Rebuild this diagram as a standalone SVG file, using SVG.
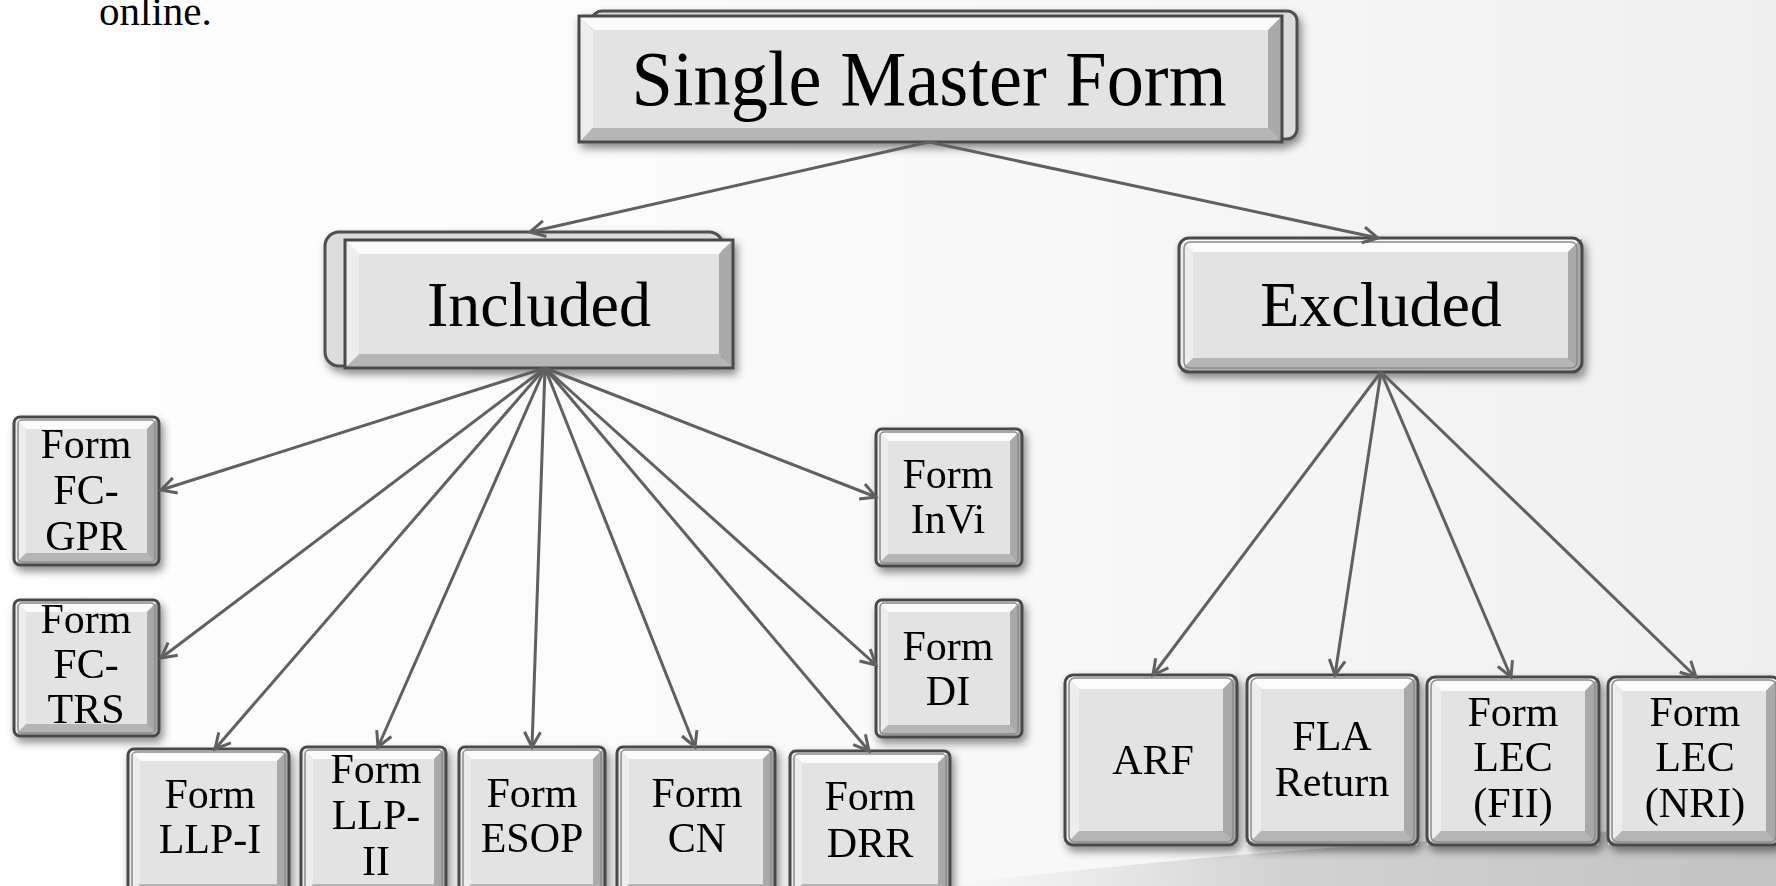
<svg xmlns="http://www.w3.org/2000/svg" width="1776" height="886" viewBox="0 0 1776 886">
<style>
.t{font-family:"Liberation Serif","Times New Roman",serif;fill:#000;text-anchor:middle}
.s42{font-size:42px}
.tb{fill:#fbfbfb}
.lb{fill:#ededed}
.rb{fill:#a9a9a9}
.bb{fill:#b5b5b5}
.face{fill:#e3e3e3}
.edge{fill:none;stroke:#4a4a4a;stroke-width:3}
.edge2{fill:none;stroke:#8a8a8a;stroke-width:1.5}
.back{fill:#dcdcdc;stroke:#505050;stroke-width:3}
.conn line{stroke:#606060;stroke-width:3;marker-end:url(#arr)}
</style>
<defs>
<linearGradient id="bg" x1="0" y1="0" x2="1" y2="0">
<stop offset="0" stop-color="#ffffff"/>
<stop offset="0.6" stop-color="#f8f8f8"/>
<stop offset="1" stop-color="#efefef"/>
</linearGradient>
<linearGradient id="sw" x1="0" y1="0" x2="1" y2="0">
<stop offset="0" stop-color="#d8d8d8" stop-opacity="0"/>
<stop offset="0.4" stop-color="#cccccc" stop-opacity="0.85"/>
<stop offset="1" stop-color="#c2c2c2"/>
</linearGradient>
<filter id="sh" x="-10%" y="-10%" width="125%" height="130%">
<feDropShadow dx="3" dy="5" stdDeviation="4" flood-color="#000" flood-opacity="0.45"/>
</filter>
<marker id="arr" markerUnits="userSpaceOnUse" markerWidth="24" markerHeight="24" refX="0" refY="0" viewBox="-18 -12 22 24" orient="auto">
<path d="M-15,-8 L0,0 L-15,8" fill="none" stroke="#606060" stroke-width="3" stroke-linejoin="miter"/>
</marker>
</defs>
<rect width="1776" height="886" fill="url(#bg)"/>
<path d="M940,886 Q1350,836 1776,826 L1776,886 Z" fill="url(#sw)"/>
<text class="t" x="99" y="25" font-size="41" style="text-anchor:start">online.</text>

<g id="smf" filter="url(#sh)">
<rect class="back" x="592" y="11" width="705" height="128" rx="10"/>
<polygon class="tb" points="579,16 1282,16 1268,30 593,30"/>
<polygon class="bb" points="579,142 1282,142 1268,128 593,128"/>
<polygon class="lb" points="579,16 593,30 593,128 579,142"/>
<polygon class="rb" points="1282,16 1268,30 1268,128 1282,142"/>
<rect class="face" x="593" y="30" width="675" height="98"/>
<rect class="edge" x="579" y="16" width="703" height="126"/>
<text class="t" x="929" y="105" font-size="78" textLength="595" lengthAdjust="spacingAndGlyphs">Single Master Form</text>
</g>

<g id="included" filter="url(#sh)">
<rect class="back" x="325" y="232" width="398" height="134" rx="14"/>
<polygon class="tb" points="345,240 733,240 719,254 359,254"/>
<polygon class="bb" points="345,368 733,368 719,354 359,354"/>
<polygon class="lb" points="345,240 359,254 359,354 345,368"/>
<polygon class="rb" points="733,240 719,254 719,354 733,368"/>
<rect class="face" x="359" y="254" width="360" height="100"/>
<rect class="edge" x="345" y="240" width="388" height="128"/>
<text class="t" x="539" y="326" font-size="64">Included</text>
</g>

<g id="excluded" filter="url(#sh)">
<polygon class="tb" points="1179,238 1582,238 1568,252 1193,252"/>
<polygon class="bb" points="1179,372 1582,372 1568,358 1193,358"/>
<polygon class="lb" points="1179,238 1193,252 1193,358 1179,372"/>
<polygon class="rb" points="1582,238 1568,252 1568,358 1582,372"/>
<rect class="face" x="1193" y="252" width="375" height="106"/>
<rect class="edge" x="1179" y="238" width="403" height="134" rx="10"/>
<rect class="edge2" x="1184" y="242" width="393" height="126" rx="6"/>
<text class="t" x="1381" y="326" font-size="64">Excluded</text>
</g>

<g id="fc-gpr" filter="url(#sh)">
<polygon class="tb" points="14,417 159,417 147,429 26,429"/>
<polygon class="bb" points="14,565 159,565 147,553 26,553"/>
<polygon class="lb" points="14,417 26,429 26,553 14,565"/>
<polygon class="rb" points="159,417 147,429 147,553 159,565"/>
<rect class="face" x="26" y="429" width="121" height="124"/>
<rect class="edge" x="14" y="417" width="145" height="148" rx="6"/>
<rect class="edge2" x="18" y="420" width="137" height="142" rx="4"/>
<text class="t s42" x="86"><tspan x="86" y="458">Form</tspan><tspan x="86" y="504">FC-</tspan><tspan x="86" y="550">GPR</tspan></text>
</g>

<g id="fc-trs" filter="url(#sh)">
<polygon class="tb" points="14,600 159,600 147,612 26,612"/>
<polygon class="bb" points="14,736 159,736 147,724 26,724"/>
<polygon class="lb" points="14,600 26,612 26,724 14,736"/>
<polygon class="rb" points="159,600 147,612 147,724 159,736"/>
<rect class="face" x="26" y="612" width="121" height="112"/>
<rect class="edge" x="14" y="600" width="145" height="136" rx="6"/>
<rect class="edge2" x="18" y="603" width="137" height="130" rx="4"/>
<text class="t s42" x="86"><tspan x="86" y="633">Form</tspan><tspan x="86" y="678">FC-</tspan><tspan x="86" y="723">TRS</tspan></text>
</g>

<g id="invi" filter="url(#sh)">
<polygon class="tb" points="876,429 1022,429 1010,441 888,441"/>
<polygon class="bb" points="876,566 1022,566 1010,554 888,554"/>
<polygon class="lb" points="876,429 888,441 888,554 876,566"/>
<polygon class="rb" points="1022,429 1010,441 1010,554 1022,566"/>
<rect class="face" x="888" y="441" width="122" height="113"/>
<rect class="edge" x="876" y="429" width="146" height="137" rx="6"/>
<rect class="edge2" x="880" y="432" width="138" height="131" rx="4"/>
<text class="t s42" x="948"><tspan x="948" y="488">Form</tspan><tspan x="948" y="533">InVi</tspan></text>
</g>

<g id="di" filter="url(#sh)">
<polygon class="tb" points="876,600 1022,600 1010,612 888,612"/>
<polygon class="bb" points="876,737 1022,737 1010,725 888,725"/>
<polygon class="lb" points="876,600 888,612 888,725 876,737"/>
<polygon class="rb" points="1022,600 1010,612 1010,725 1022,737"/>
<rect class="face" x="888" y="612" width="122" height="113"/>
<rect class="edge" x="876" y="600" width="146" height="137" rx="6"/>
<rect class="edge2" x="880" y="603" width="138" height="131" rx="4"/>
<text class="t s42" x="948"><tspan x="948" y="660">Form</tspan><tspan x="948" y="705">DI</tspan></text>
</g>

<g id="llp-i" filter="url(#sh)">
<polygon class="tb" points="128,749 289,749 277,761 140,761"/>
<polygon class="bb" points="128,896 289,896 277,884 140,884"/>
<polygon class="lb" points="128,749 140,761 140,884 128,896"/>
<polygon class="rb" points="289,749 277,761 277,884 289,896"/>
<rect class="face" x="140" y="761" width="137" height="123"/>
<rect class="edge" x="128" y="749" width="161" height="147" rx="6"/>
<rect class="edge2" x="132" y="752" width="153" height="141" rx="4"/>
<text class="t s42" x="210"><tspan x="210" y="808">Form</tspan><tspan x="210" y="853">LLP-I</tspan></text>
</g>

<g id="llp-ii" filter="url(#sh)">
<polygon class="tb" points="301,747 446,747 434,759 313,759"/>
<polygon class="bb" points="301,896 446,896 434,884 313,884"/>
<polygon class="lb" points="301,747 313,759 313,884 301,896"/>
<polygon class="rb" points="446,747 434,759 434,884 446,896"/>
<rect class="face" x="313" y="759" width="121" height="125"/>
<rect class="edge" x="301" y="747" width="145" height="149" rx="6"/>
<rect class="edge2" x="305" y="750" width="137" height="143" rx="4"/>
<text class="t s42" x="376"><tspan x="376" y="783">Form</tspan><tspan x="376" y="829">LLP-</tspan><tspan x="376" y="875">II</tspan></text>
</g>

<g id="esop" filter="url(#sh)">
<polygon class="tb" points="459,747 605,747 593,759 471,759"/>
<polygon class="bb" points="459,896 605,896 593,884 471,884"/>
<polygon class="lb" points="459,747 471,759 471,884 459,896"/>
<polygon class="rb" points="605,747 593,759 593,884 605,896"/>
<rect class="face" x="471" y="759" width="122" height="125"/>
<rect class="edge" x="459" y="747" width="146" height="149" rx="6"/>
<rect class="edge2" x="463" y="750" width="138" height="143" rx="4"/>
<text class="t s42" x="532"><tspan x="532" y="807">Form</tspan><tspan x="532" y="852">ESOP</tspan></text>
</g>

<g id="cn" filter="url(#sh)">
<polygon class="tb" points="617,747 775,747 763,759 629,759"/>
<polygon class="bb" points="617,896 775,896 763,884 629,884"/>
<polygon class="lb" points="617,747 629,759 629,884 617,896"/>
<polygon class="rb" points="775,747 763,759 763,884 775,896"/>
<rect class="face" x="629" y="759" width="134" height="125"/>
<rect class="edge" x="617" y="747" width="158" height="149" rx="6"/>
<rect class="edge2" x="621" y="750" width="150" height="143" rx="4"/>
<text class="t s42" x="697"><tspan x="697" y="807">Form</tspan><tspan x="697" y="852">CN</tspan></text>
</g>

<g id="drr" filter="url(#sh)">
<polygon class="tb" points="790,751 950,751 938,763 802,763"/>
<polygon class="bb" points="790,896 950,896 938,884 802,884"/>
<polygon class="lb" points="790,751 802,763 802,884 790,896"/>
<polygon class="rb" points="950,751 938,763 938,884 950,896"/>
<rect class="face" x="802" y="763" width="136" height="121"/>
<rect class="edge" x="790" y="751" width="160" height="145" rx="6"/>
<rect class="edge2" x="794" y="754" width="152" height="139" rx="4"/>
<text class="t s42" x="870"><tspan x="870" y="810">Form</tspan><tspan x="870" y="857">DRR</tspan></text>
</g>

<g id="arf" filter="url(#sh)">
<polygon class="tb" points="1065,675 1237,675 1223,689 1079,689"/>
<polygon class="bb" points="1065,845 1237,845 1223,831 1079,831"/>
<polygon class="lb" points="1065,675 1079,689 1079,831 1065,845"/>
<polygon class="rb" points="1237,675 1223,689 1223,831 1237,845"/>
<rect class="face" x="1079" y="689" width="144" height="142"/>
<rect class="edge" x="1065" y="675" width="172" height="170" rx="8"/>
<rect class="edge2" x="1069" y="678" width="164" height="164" rx="6"/>
<text class="t s42" x="1153" y="774">ARF</text>
</g>

<g id="fla" filter="url(#sh)">
<polygon class="tb" points="1247,675 1418,675 1404,689 1261,689"/>
<polygon class="bb" points="1247,845 1418,845 1404,831 1261,831"/>
<polygon class="lb" points="1247,675 1261,689 1261,831 1247,845"/>
<polygon class="rb" points="1418,675 1404,689 1404,831 1418,845"/>
<rect class="face" x="1261" y="689" width="143" height="142"/>
<rect class="edge" x="1247" y="675" width="171" height="170" rx="8"/>
<rect class="edge2" x="1251" y="678" width="163" height="164" rx="6"/>
<text class="t s42" x="1332"><tspan x="1332" y="750">FLA</tspan><tspan x="1332" y="796">Return</tspan></text>
</g>

<g id="lec-fii" filter="url(#sh)">
<polygon class="tb" points="1427,677 1599,677 1585,691 1441,691"/>
<polygon class="bb" points="1427,845 1599,845 1585,831 1441,831"/>
<polygon class="lb" points="1427,677 1441,691 1441,831 1427,845"/>
<polygon class="rb" points="1599,677 1585,691 1585,831 1599,845"/>
<rect class="face" x="1441" y="691" width="144" height="140"/>
<rect class="edge" x="1427" y="677" width="172" height="168" rx="8"/>
<rect class="edge2" x="1431" y="680" width="164" height="162" rx="6"/>
<text class="t s42" x="1513"><tspan x="1513" y="726">Form</tspan><tspan x="1513" y="771">LEC</tspan><tspan x="1513" y="817">(FII)</tspan></text>
</g>

<g id="lec-nri" filter="url(#sh)">
<polygon class="tb" points="1608,677 1780,677 1766,691 1622,691"/>
<polygon class="bb" points="1608,845 1780,845 1766,831 1622,831"/>
<polygon class="lb" points="1608,677 1622,691 1622,831 1608,845"/>
<polygon class="rb" points="1780,677 1766,691 1766,831 1780,845"/>
<rect class="face" x="1622" y="691" width="144" height="140"/>
<rect class="edge" x="1608" y="677" width="172" height="168" rx="8"/>
<rect class="edge2" x="1612" y="680" width="164" height="162" rx="6"/>
<text class="t s42" x="1695"><tspan x="1695" y="726">Form</tspan><tspan x="1695" y="771">LEC</tspan><tspan x="1695" y="817">(NRI)</tspan></text>
</g>

<g id="connectors" class="conn">
<line x1="929" y1="142" x2="530" y2="232"/>
<line x1="929" y1="142" x2="1378" y2="238"/>
<line x1="545" y1="368" x2="161" y2="490"/>
<line x1="545" y1="368" x2="161" y2="658"/>
<line x1="545" y1="368" x2="215" y2="749"/>
<line x1="545" y1="368" x2="378" y2="747"/>
<line x1="545" y1="368" x2="532" y2="747"/>
<line x1="545" y1="368" x2="695" y2="747"/>
<line x1="545" y1="368" x2="869" y2="751"/>
<line x1="545" y1="368" x2="876" y2="497"/>
<line x1="545" y1="368" x2="876" y2="665"/>
<line x1="1381" y1="372" x2="1153" y2="675"/>
<line x1="1381" y1="372" x2="1335" y2="675"/>
<line x1="1381" y1="372" x2="1511" y2="677"/>
<line x1="1381" y1="372" x2="1696" y2="677"/>
</g>
</svg>
